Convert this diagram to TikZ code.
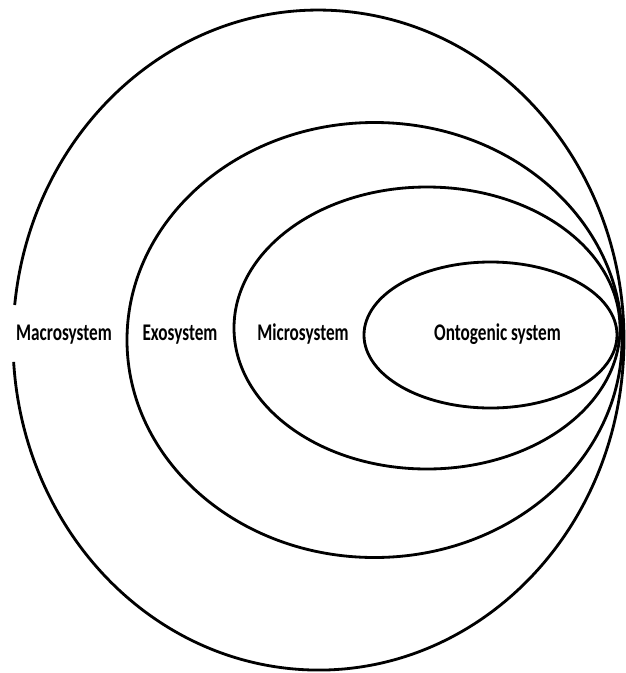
\documentclass[tikz,border=0pt]{standalone}
\usepackage{fontspec}
\newfontfamily\labelfont[FakeStretch=0.72]{Carlito}
\begin{document}
\begin{tikzpicture}[x=0.025cm,y=-0.025cm,
        ring/.style={line width=2pt},
        level/.style={font=\labelfont\bfseries\fontsize{17}{18}\selectfont,inner sep=0pt,anchor=base}]
    \useasboundingbox (0,0) rectangle (626,673);
    % outer ring, open where its label sits
    \draw[ring] (14.7,305) arc [start angle=186.1,end angle=536.2,x radius=305.5,y radius=330];
    \draw[ring] (374.5,340) ellipse [x radius=247.5,y radius=217.5];
    \draw[ring] (427,328) ellipse [x radius=193,y radius=141];
    \draw[ring] (490.5,335) ellipse [x radius=126.5,y radius=73];
    \node[level] (macro) at (64,340.5) {Macrosystem};
    \node[level] (exo) at (180,340.5) {Exosystem};
    \node[level] (micro) at (303,340.5) {Microsystem};
    \node[level] (onto) at (497.5,340.5) {Ontogenic system};
\end{tikzpicture}
\end{document}
